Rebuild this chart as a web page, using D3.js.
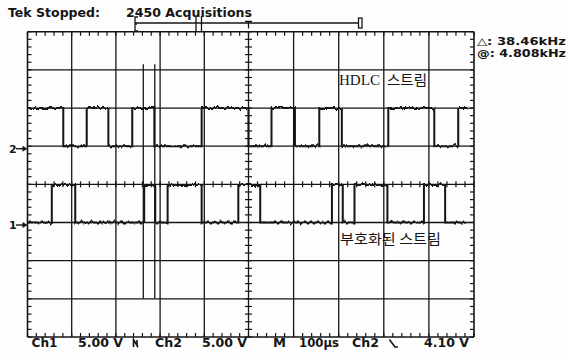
<!DOCTYPE html>
<html>
<head>
<meta charset="utf-8">
<script src="https://cdn.jsdelivr.net/npm/d3@7"></script>
<style>
  html, body { margin: 0; padding: 0; background: #fff; }
  svg { display: block; }
  .scope { font-family: "DejaVu Sans", Verdana, sans-serif; font-weight: bold; fill: #151515; }
  .kr { font-family: "Noto Sans CJK KR", sans-serif; fill: #151515; }
  .serif { font-family: "Liberation Serif", "Times New Roman", serif; fill: #151515; }
</style>
</head>
<body>
<svg id="chart" width="568" height="353"></svg>
<script>
// edges, µs from left edge (100 µs/div, 10 div)
const ch2Edges = [81, 134, 183, 237, 287, 394, 500, 551, 603, 657, 707, 810, 912, 965];
const ch1Edges = [55, 108, 264, 289, 317, 394, 477, 526, 685, 709, 735, 808, 889, 936];
const ch2StartHigh = true, ch1StartHigh = false;
const ch2End = 985, ch1End = 982;
const ch2Levels = [0, 5.0];   // volts low / high
const ch1Levels = [0, 4.9];
const voltsPerDiv = 5;
const ch2Ground = 1, ch1Ground = -1;   // divisions from centre
const cursorTimes = [262, 288];
const timeTicks = d3.range(0, 1001, 100);
const divTicks = d3.range(-4, 5);
const minorTime = d3.range(0, 1001, 20);
const minorDiv = d3.range(-20, 21).map(d => d / 5);

const footer = [
  { s: 'Ch1', x: 31.5, w: 26 }, { s: '5.00 V', x: 78, w: 45 },
  { s: 'Ch2', x: 155, w: 27 }, { s: '5.00 V', x: 202, w: 45 },
  { s: 'M', x: 273, w: 13 }, { s: '100µs', x: 299, w: 40 },
  { s: 'Ch2', x: 352, w: 27 }, { s: '4.10 V', x: 424, w: 45 }
];

const svg = d3.select('#chart');
const ink = '#151515';

// the scanned screen is slightly stretched on the right half
const x = d3.scaleLinear().domain([0, 500, 1000]).range([27.5, 248.5, 474]);
const y = d3.scaleLinear().domain([-4, 4]).range([337, 31.7]);

svg.append('rect').attr('width', 568).attr('height', 353).attr('fill', '#fdfdfd');

// vertical jitter for the traces
const defs = svg.append('defs');
const f = defs.append('filter').attr('id', 'jitter')
  .attr('filterUnits', 'userSpaceOnUse')
  .attr('x', 0).attr('y', 0).attr('width', 568).attr('height', 353);
f.append('feTurbulence').attr('type', 'fractalNoise')
  .attr('baseFrequency', '0.3 0.04').attr('numOctaves', 2).attr('seed', 7).attr('result', 'n');
f.append('feColorMatrix').attr('in', 'n').attr('type', 'matrix')
  .attr('values', '0 0 0 0 0.5  0 1 0 0 0  0 0 0 0 0  0 0 0 0 1').attr('result', 'm');
f.append('feDisplacementMap').attr('in', 'SourceGraphic').attr('in2', 'm')
  .attr('scale', 6).attr('xChannelSelector', 'R').attr('yChannelSelector', 'G');

// graticule
const grid = svg.append('g').attr('stroke', ink).attr('fill', 'none');
grid.selectAll('.vl').data(timeTicks).join('line')
  .attr('x1', d => x(d)).attr('x2', d => x(d))
  .attr('y1', y(4)).attr('y2', y(-4))
  .attr('stroke-width', d => (d === 0 || d === 1000) ? 1.6 : 1.3);
grid.selectAll('.hl').data(divTicks).join('line')
  .attr('x1', x(0)).attr('x2', x(1000))
  .attr('y1', d => y(d)).attr('y2', d => y(d))
  .attr('stroke-width', d => Math.abs(d) === 4 ? 1.6 : 1.3);

// minor ticks: borders point inward, centre lines cross
const ticks = [];
minorTime.forEach(t => {
  ticks.push([x(t), y(4), x(t), y(4) + 4]);
  ticks.push([x(t), y(-4), x(t), y(-4) - 4]);
  ticks.push([x(t), y(0) - 3, x(t), y(0) + 3]);
});
minorDiv.forEach(d => {
  ticks.push([x(0), y(d), x(0) + 4, y(d)]);
  ticks.push([x(1000), y(d), x(1000) - 4, y(d)]);
  ticks.push([x(500) - 3.5, y(d), x(500) + 3.5, y(d)]);
});
grid.selectAll('.tk').data(ticks).join('line')
  .attr('x1', d => d[0]).attr('y1', d => d[1])
  .attr('x2', d => d[2]).attr('y2', d => d[3])
  .attr('stroke-width', 1.2);

// cursors
svg.append('g').selectAll('line').data(cursorTimes).join('line')
  .attr('x1', d => x(d)).attr('x2', d => x(d))
  .attr('y1', y(3.15)).attr('y2', y(-3))
  .attr('stroke', ink).attr('stroke-width', 1.3);

// traces
function steps(edges, startHigh, end, levels, ground) {
  let hi = startHigh;
  const pts = [[0, hi]];
  edges.forEach(t => { hi = !hi; pts.push([t, hi]); });
  pts.push([end, hi]);
  return pts.map(([t, h]) => ({ t, div: ground + (h ? levels[1] : levels[0]) / voltsPerDiv }));
}
const line = d3.line().x(d => x(d.t)).y(d => y(d.div)).curve(d3.curveStepAfter);
const traces = svg.append('g').attr('filter', 'url(#jitter)')
  .attr('fill', 'none').attr('stroke', ink).attr('stroke-width', 2);
traces.append('path').attr('d', line(steps(ch2Edges, ch2StartHigh, ch2End, ch2Levels, ch2Ground)));
traces.append('path').attr('d', line(steps(ch1Edges, ch1StartHigh, ch1End, ch1Levels, ch1Ground)));

// channel ground markers
[{ s: '2', g: ch2Ground }, { s: '1', g: ch1Ground }].forEach(m => {
  const yy = y(m.g) + 2.5;
  svg.append('text').attr('class', 'scope').attr('x', 9).attr('y', yy + 4)
    .attr('font-size', 11).text(m.s);
  svg.append('line').attr('x1', 16).attr('x2', 24).attr('y1', yy).attr('y2', yy)
    .attr('stroke', ink).attr('stroke-width', 1.4);
  svg.append('path').attr('d', `M${x(0)},${yy} l-5,-3 l0,6 z`).attr('fill', ink);
});

// header
svg.append('text').attr('class', 'scope').attr('x', 8).attr('y', 16.5)
  .attr('font-size', 13).attr('textLength', 92).attr('lengthAdjust', 'spacingAndGlyphs')
  .text('Tek Stopped:');
svg.append('text').attr('class', 'scope').attr('x', 126).attr('y', 16.5)
  .attr('font-size', 13).attr('textLength', 126).attr('lengthAdjust', 'spacingAndGlyphs')
  .text('2450 Acquisitions');

// record view bar
const bar = svg.append('g').attr('stroke', ink).attr('fill', 'none').attr('stroke-width', 1.3);
bar.append('line').attr('x1', 135).attr('x2', 359).attr('y1', 23).attr('y2', 23);
bar.append('path').attr('d', 'M138,17 L135,17 L135,31 L138,31 M135,24 L137,24');
bar.append('path').attr('d', 'M196,16 L196,31 M201.5,16 L201.5,31');
bar.append('path').attr('d', `M${x(500) - 3.5},21.5 L${x(500) + 3.5},21.5 M${x(500)},21.5 L${x(500)},28.5`);
bar.append('rect').attr('x', 358.5).attr('y', 18).attr('width', 3.5).attr('height', 10);

// cursor readouts
svg.append('text').attr('class', 'scope').attr('x', 477).attr('y', 45)
  .attr('font-size', 10).attr('textLength', 89).attr('lengthAdjust', 'spacingAndGlyphs')
  .text('△: 38.46kHz');
svg.append('text').attr('class', 'scope').attr('x', 477).attr('y', 56.5)
  .attr('font-size', 10).attr('textLength', 89).attr('lengthAdjust', 'spacingAndGlyphs')
  .text('@: 4.808kHz');

// footer
svg.append('g').selectAll('text').data(footer).join('text')
  .attr('class', 'scope').attr('x', d => d.x).attr('y', 347)
  .attr('font-size', 11.5).attr('textLength', d => d.w).attr('lengthAdjust', 'spacingAndGlyphs')
  .text(d => d.s);
svg.append('path').attr('d', 'M133.5,347 L133.5,339.5 L137,345.5 L137,340 M135.5,343 L138,347')
  .attr('stroke', ink).attr('stroke-width', 1.6).attr('fill', 'none');
svg.append('path').attr('d', 'M389.5,339.5 L390.5,341 L395,347 L398,347')
  .attr('stroke', ink).attr('stroke-width', 1.6).attr('fill', 'none');

// stream labels
svg.append('text').attr('class', 'serif').attr('x', 339).attr('y', 85)
  .attr('font-size', 15.5).attr('textLength', 41).attr('lengthAdjust', 'spacingAndGlyphs')
  .text('HDLC');
svg.append('text').attr('class', 'kr').attr('x', 387).attr('y', 85)
  .attr('font-size', 13.5).attr('textLength', 40).attr('lengthAdjust', 'spacingAndGlyphs')
  .text('스트림');
svg.append('text').attr('class', 'kr').attr('x', 340).attr('y', 244)
  .attr('font-size', 13.5).attr('textLength', 101).attr('lengthAdjust', 'spacingAndGlyphs')
  .text('부호화된 스트림');
</script>
</body>
</html>
